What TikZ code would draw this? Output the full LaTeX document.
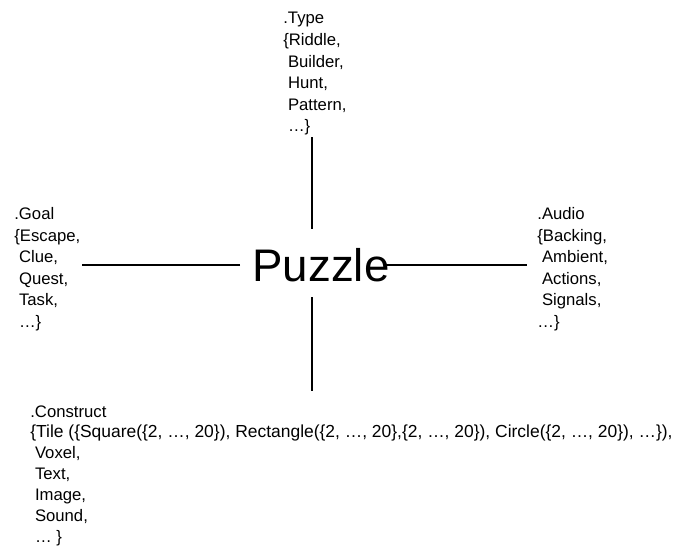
\documentclass[tikz,border=0pt]{standalone}
\usepackage{fontspec}
\setmainfont{Liberation Sans}
% small indent for continued lines
\newcommand{\ind}{\hspace*{.28em}}
\begin{document}
\begin{tikzpicture}[x=0.02cm,y=-0.02cm,
		attr/.style={align=left,inner sep=0pt,anchor=north west,font=\fontsize{9.5}{12.3}\selectfont},
		link/.style={line width=1.6pt}]
			\useasboundingbox (0,0) rectangle (682,548);
			\node(Puzzle)		[inner sep=0pt,font=\fontsize{26}{30}\selectfont] at (321,265) {Puzzle};
			\node(Type)			[attr] at (283,12)	{.Type\\\{Riddle,\\\ind Builder,\\\ind Hunt,\\\ind Pattern,\\\ind …\}};
			\node(Goal)			[attr] at (14,207)	{.Goal\\\{Escape,\\\ind Clue,\\\ind Quest,\\\ind Task,\\\ind …\}};
			\node(Audio)		[attr] at (537,207)	{.Audio\\\{Backing,\\\ind Ambient,\\\ind Actions,\\\ind Signals,\\…\}};
			\node(Construct)	[attr,font=\fontsize{9.5}{11.9}\selectfont] at (30,405)
				{.Construct\\{\fontsize{9.93}{11.9}\selectfont\{Tile (\{Square(\{2, …, 20\}), Rectangle(\{2, …, 20\},\{2, …, 20\}), Circle(\{2, …, 20\}), …\}),}\\\ind Voxel,\\\ind Text,\\\ind Image,\\\ind Sound,\\\ind … \}};
			\draw[link,shorten <=10.8pt,shorten >=1pt]([xshift=-5.1pt]Puzzle.north) -- ([xshift=-5.1pt]Puzzle.north |- Type.south);
			\draw[link,shorten <=8.5pt,shorten >=8pt]([xshift=-5.1pt]Puzzle.south) -- ([xshift=-5.1pt]Puzzle.south |- Construct.north);
			\draw[link,shorten <=6.8pt,shorten >=1pt](Puzzle.west) -- (Goal.east |- Puzzle.west);
			\draw[link,shorten <=-2.8pt,shorten >=5.7pt](Puzzle.east) -- (Audio.west |- Puzzle.east);
		\end{tikzpicture}
\end{document}
